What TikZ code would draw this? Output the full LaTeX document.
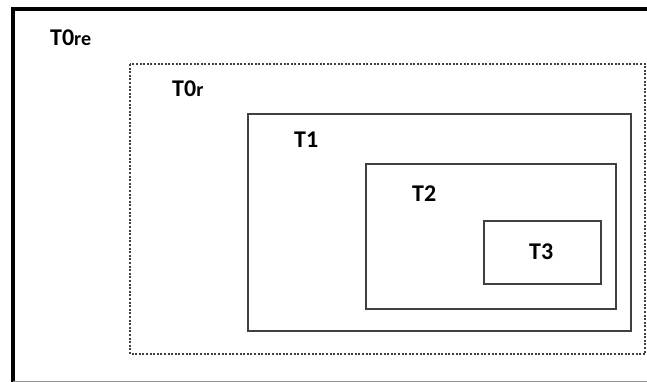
\documentclass[tikz,border=0pt]{standalone}
\usepackage{fontspec}
\setmainfont{Carlito}
\usepackage{tikz}
\usetikzlibrary{positioning}
\definecolor{frameline}{RGB}{64, 64, 64}
\definecolor{bottomgray}{RGB}{150, 150, 150}

\begin{document}
\begin{tikzpicture}[
    x=1pt,
    y=-1pt,
    font=\fontsize{24}{28}\selectfont\bfseries,
    tlabel/.style={inner sep=0pt, anchor=base west}
]
    \useasboundingbox (0,0) rectangle (647,382);

    % Outer frame
    \draw[line width=4pt, line cap=rect] (13,381) -- (13,9) -- (647,9);
    \draw[bottomgray, line width=1pt] (13,381) -- (647,381);

    % Tiers
    \draw[frameline, line width=1.3pt, dash pattern=on 2pt off 1.6pt] (130,64) rectangle (645,354);
    \draw[frameline, line width=1.3pt] (248,114) rectangle (631,331);
    \draw[frameline, line width=1.3pt] (366,164) rectangle (616,309);
    \draw[frameline, line width=1.3pt] (484,221) rectangle (601,284);

    % Labels
    \node[tlabel] (t0re) at (50,46) {T0{\fontsize{20}{24}\selectfont re}};
    \node[tlabel] (t0r) at (172,97) {T0{\fontsize{20}{24}\selectfont r}};
    \node[tlabel] (t1) at (294,148) {T1};
    \node[tlabel] (t2) at (412,201) {T2};
    \node[tlabel] (t3) at (529,259) {T3};
\end{tikzpicture}
\end{document}
